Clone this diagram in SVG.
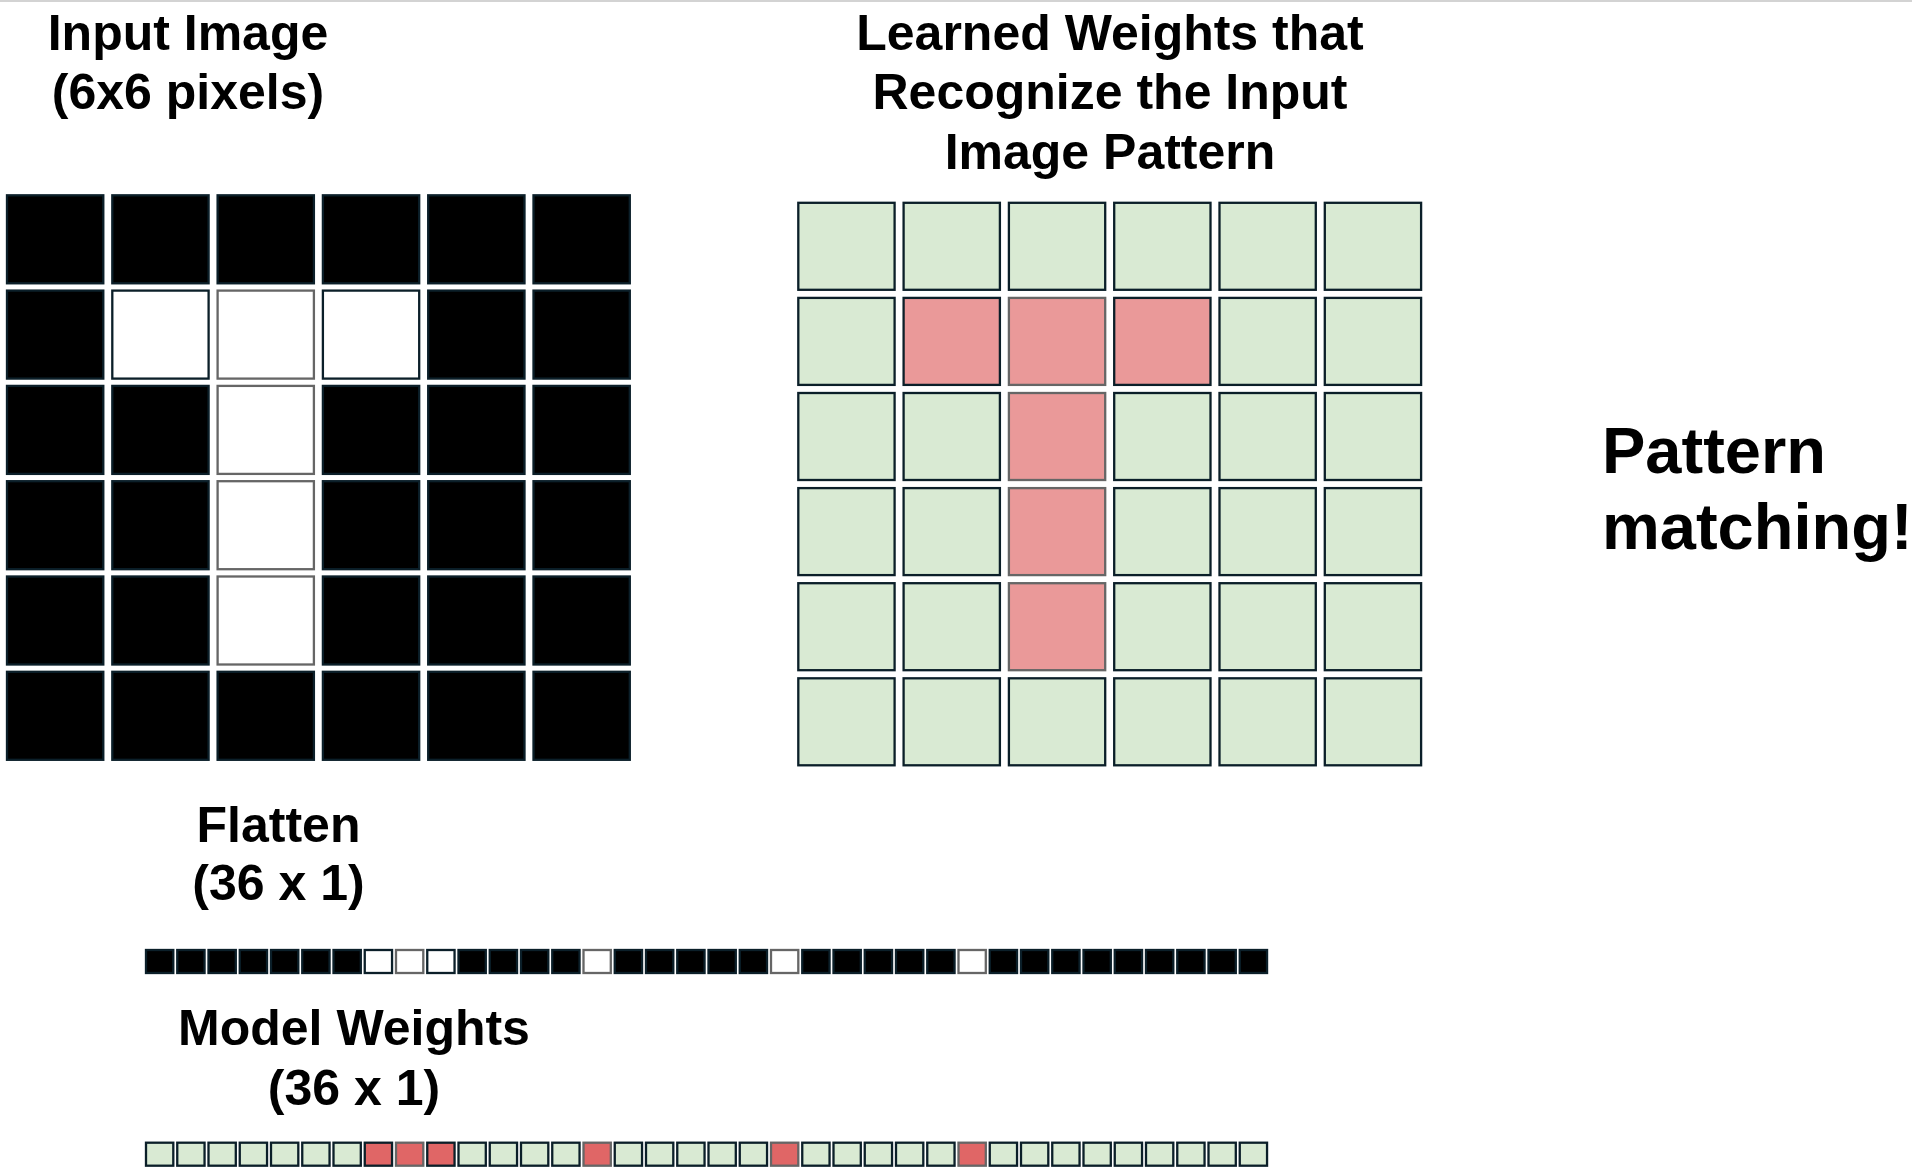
<svg xmlns="http://www.w3.org/2000/svg" width="1912" height="1171" viewBox="0 0 1912 1171">
<style>
text{font-family:"Liberation Sans",Arial,sans-serif;font-weight:bold;fill:#000}
.t{font-size:50px}
.big{font-size:65px}
.c{text-anchor:middle}
rect{stroke-width:2.3}
.k{fill:#000;stroke:#0b1f29}
.w{fill:#fff;stroke:#0b1f29}
.wg{fill:#fff;stroke:#666}
.g{fill:#d9ead3;stroke:#0b1f29}
.p{fill:#ea9999;stroke:#0b1f29}
.pg{fill:#ea9999;stroke:#666}
.r{fill:#e06666;stroke:#0b1f29}
.rg{fill:#e06666;stroke:#666}
</style>
<rect width="1912" height="1171" fill="#fff" stroke="none"/>
<line x1="0" y1="1" x2="1912" y2="1" stroke="#d3d3d3" stroke-width="2"/>

<g id="input-title">
<text class="t c" x="188" y="50">Input Image</text>
<text class="t c" x="188" y="108.5">(6x6 pixels)</text>
</g>

<g id="input-grid">
<rect class="k" x="7" y="195.3" width="96.3" height="88"/>
<rect class="k" x="112.3" y="195.3" width="96.3" height="88"/>
<rect class="k" x="217.6" y="195.3" width="96.3" height="88"/>
<rect class="k" x="322.9" y="195.3" width="96.3" height="88"/>
<rect class="k" x="428.2" y="195.3" width="96.3" height="88"/>
<rect class="k" x="533.5" y="195.3" width="96.3" height="88"/>

<rect class="k" x="7" y="290.6" width="96.3" height="88"/>
<rect class="w" x="112.3" y="290.6" width="96.3" height="88"/>
<rect class="wg" x="217.6" y="290.6" width="96.3" height="88"/>
<rect class="w" x="322.9" y="290.6" width="96.3" height="88"/>
<rect class="k" x="428.2" y="290.6" width="96.3" height="88"/>
<rect class="k" x="533.5" y="290.6" width="96.3" height="88"/>

<rect class="k" x="7" y="385.9" width="96.3" height="88"/>
<rect class="k" x="112.3" y="385.9" width="96.3" height="88"/>
<rect class="wg" x="217.6" y="385.9" width="96.3" height="88"/>
<rect class="k" x="322.9" y="385.9" width="96.3" height="88"/>
<rect class="k" x="428.2" y="385.9" width="96.3" height="88"/>
<rect class="k" x="533.5" y="385.9" width="96.3" height="88"/>

<rect class="k" x="7" y="481.2" width="96.3" height="88"/>
<rect class="k" x="112.3" y="481.2" width="96.3" height="88"/>
<rect class="wg" x="217.6" y="481.2" width="96.3" height="88"/>
<rect class="k" x="322.9" y="481.2" width="96.3" height="88"/>
<rect class="k" x="428.2" y="481.2" width="96.3" height="88"/>
<rect class="k" x="533.5" y="481.2" width="96.3" height="88"/>

<rect class="k" x="7" y="576.5" width="96.3" height="88"/>
<rect class="k" x="112.3" y="576.5" width="96.3" height="88"/>
<rect class="wg" x="217.6" y="576.5" width="96.3" height="88"/>
<rect class="k" x="322.9" y="576.5" width="96.3" height="88"/>
<rect class="k" x="428.2" y="576.5" width="96.3" height="88"/>
<rect class="k" x="533.5" y="576.5" width="96.3" height="88"/>

<rect class="k" x="7" y="671.8" width="96.3" height="88"/>
<rect class="k" x="112.3" y="671.8" width="96.3" height="88"/>
<rect class="k" x="217.6" y="671.8" width="96.3" height="88"/>
<rect class="k" x="322.9" y="671.8" width="96.3" height="88"/>
<rect class="k" x="428.2" y="671.8" width="96.3" height="88"/>
<rect class="k" x="533.5" y="671.8" width="96.3" height="88"/>
</g>

<g id="weights-title">
<text class="t c" x="1110" y="50">Learned Weights that</text>
<text class="t c" x="1110" y="109">Recognize the Input</text>
<text class="t c" x="1110" y="168.5">Image Pattern</text>
</g>

<g id="weights-grid">
<rect class="g" x="798.3" y="202.8" width="96.3" height="87"/>
<rect class="g" x="903.6" y="202.8" width="96.3" height="87"/>
<rect class="g" x="1008.9" y="202.8" width="96.3" height="87"/>
<rect class="g" x="1114.2" y="202.8" width="96.3" height="87"/>
<rect class="g" x="1219.5" y="202.8" width="96.3" height="87"/>
<rect class="g" x="1324.8" y="202.8" width="96.3" height="87"/>

<rect class="g" x="798.3" y="297.9" width="96.3" height="87"/>
<rect class="p" x="903.6" y="297.9" width="96.3" height="87"/>
<rect class="pg" x="1008.9" y="297.9" width="96.3" height="87"/>
<rect class="p" x="1114.2" y="297.9" width="96.3" height="87"/>
<rect class="g" x="1219.5" y="297.9" width="96.3" height="87"/>
<rect class="g" x="1324.8" y="297.9" width="96.3" height="87"/>

<rect class="g" x="798.3" y="393" width="96.3" height="87"/>
<rect class="g" x="903.6" y="393" width="96.3" height="87"/>
<rect class="pg" x="1008.9" y="393" width="96.3" height="87"/>
<rect class="g" x="1114.2" y="393" width="96.3" height="87"/>
<rect class="g" x="1219.5" y="393" width="96.3" height="87"/>
<rect class="g" x="1324.8" y="393" width="96.3" height="87"/>

<rect class="g" x="798.3" y="488.1" width="96.3" height="87"/>
<rect class="g" x="903.6" y="488.1" width="96.3" height="87"/>
<rect class="pg" x="1008.9" y="488.1" width="96.3" height="87"/>
<rect class="g" x="1114.2" y="488.1" width="96.3" height="87"/>
<rect class="g" x="1219.5" y="488.1" width="96.3" height="87"/>
<rect class="g" x="1324.8" y="488.1" width="96.3" height="87"/>

<rect class="g" x="798.3" y="583.2" width="96.3" height="87"/>
<rect class="g" x="903.6" y="583.2" width="96.3" height="87"/>
<rect class="pg" x="1008.9" y="583.2" width="96.3" height="87"/>
<rect class="g" x="1114.2" y="583.2" width="96.3" height="87"/>
<rect class="g" x="1219.5" y="583.2" width="96.3" height="87"/>
<rect class="g" x="1324.8" y="583.2" width="96.3" height="87"/>

<rect class="g" x="798.3" y="678.3" width="96.3" height="87"/>
<rect class="g" x="903.6" y="678.3" width="96.3" height="87"/>
<rect class="g" x="1008.9" y="678.3" width="96.3" height="87"/>
<rect class="g" x="1114.2" y="678.3" width="96.3" height="87"/>
<rect class="g" x="1219.5" y="678.3" width="96.3" height="87"/>
<rect class="g" x="1324.8" y="678.3" width="96.3" height="87"/>
</g>

<g id="pattern-matching">
<text class="big" x="1602" y="473">Pattern</text>
<text class="big" x="1602" y="549">matching!</text>
</g>

<g id="flatten-title">
<text class="t c" x="278.5" y="842.3">Flatten</text>
<text class="t c" x="278.5" y="900">(36 x 1)</text>
</g>

<g id="flatten-bar">
<rect class="k" x="146" y="950" width="27.3" height="23"/>
<rect class="k" x="177.25" y="950" width="27.3" height="23"/>
<rect class="k" x="208.5" y="950" width="27.3" height="23"/>
<rect class="k" x="239.75" y="950" width="27.3" height="23"/>
<rect class="k" x="271" y="950" width="27.3" height="23"/>
<rect class="k" x="302.25" y="950" width="27.3" height="23"/>
<rect class="k" x="333.5" y="950" width="27.3" height="23"/>
<rect class="w" x="364.75" y="950" width="27.3" height="23"/>
<rect class="wg" x="396" y="950" width="27.3" height="23"/>
<rect class="w" x="427.25" y="950" width="27.3" height="23"/>
<rect class="k" x="458.5" y="950" width="27.3" height="23"/>
<rect class="k" x="489.75" y="950" width="27.3" height="23"/>
<rect class="k" x="521" y="950" width="27.3" height="23"/>
<rect class="k" x="552.25" y="950" width="27.3" height="23"/>
<rect class="wg" x="583.5" y="950" width="27.3" height="23"/>
<rect class="k" x="614.75" y="950" width="27.3" height="23"/>
<rect class="k" x="646" y="950" width="27.3" height="23"/>
<rect class="k" x="677.25" y="950" width="27.3" height="23"/>
<rect class="k" x="708.5" y="950" width="27.3" height="23"/>
<rect class="k" x="739.75" y="950" width="27.3" height="23"/>
<rect class="wg" x="771" y="950" width="27.3" height="23"/>
<rect class="k" x="802.25" y="950" width="27.3" height="23"/>
<rect class="k" x="833.5" y="950" width="27.3" height="23"/>
<rect class="k" x="864.75" y="950" width="27.3" height="23"/>
<rect class="k" x="896" y="950" width="27.3" height="23"/>
<rect class="k" x="927.25" y="950" width="27.3" height="23"/>
<rect class="wg" x="958.5" y="950" width="27.3" height="23"/>
<rect class="k" x="989.75" y="950" width="27.3" height="23"/>
<rect class="k" x="1021" y="950" width="27.3" height="23"/>
<rect class="k" x="1052.25" y="950" width="27.3" height="23"/>
<rect class="k" x="1083.5" y="950" width="27.3" height="23"/>
<rect class="k" x="1114.75" y="950" width="27.3" height="23"/>
<rect class="k" x="1146" y="950" width="27.3" height="23"/>
<rect class="k" x="1177.25" y="950" width="27.3" height="23"/>
<rect class="k" x="1208.5" y="950" width="27.3" height="23"/>
<rect class="k" x="1239.75" y="950" width="27.3" height="23"/>
</g>

<g id="model-weights-title">
<text class="t c" x="354" y="1045">Model Weights</text>
<text class="t c" x="354" y="1105">(36 x 1)</text>
</g>

<g id="model-weights-bar">
<rect class="g" x="146" y="1142.7" width="27.3" height="23"/>
<rect class="g" x="177.25" y="1142.7" width="27.3" height="23"/>
<rect class="g" x="208.5" y="1142.7" width="27.3" height="23"/>
<rect class="g" x="239.75" y="1142.7" width="27.3" height="23"/>
<rect class="g" x="271" y="1142.7" width="27.3" height="23"/>
<rect class="g" x="302.25" y="1142.7" width="27.3" height="23"/>
<rect class="g" x="333.5" y="1142.7" width="27.3" height="23"/>
<rect class="r" x="364.75" y="1142.7" width="27.3" height="23"/>
<rect class="rg" x="396" y="1142.7" width="27.3" height="23"/>
<rect class="r" x="427.25" y="1142.7" width="27.3" height="23"/>
<rect class="g" x="458.5" y="1142.7" width="27.3" height="23"/>
<rect class="g" x="489.75" y="1142.7" width="27.3" height="23"/>
<rect class="g" x="521" y="1142.7" width="27.3" height="23"/>
<rect class="g" x="552.25" y="1142.7" width="27.3" height="23"/>
<rect class="rg" x="583.5" y="1142.7" width="27.3" height="23"/>
<rect class="g" x="614.75" y="1142.7" width="27.3" height="23"/>
<rect class="g" x="646" y="1142.7" width="27.3" height="23"/>
<rect class="g" x="677.25" y="1142.7" width="27.3" height="23"/>
<rect class="g" x="708.5" y="1142.7" width="27.3" height="23"/>
<rect class="g" x="739.75" y="1142.7" width="27.3" height="23"/>
<rect class="rg" x="771" y="1142.7" width="27.3" height="23"/>
<rect class="g" x="802.25" y="1142.7" width="27.3" height="23"/>
<rect class="g" x="833.5" y="1142.7" width="27.3" height="23"/>
<rect class="g" x="864.75" y="1142.7" width="27.3" height="23"/>
<rect class="g" x="896" y="1142.7" width="27.3" height="23"/>
<rect class="g" x="927.25" y="1142.7" width="27.3" height="23"/>
<rect class="rg" x="958.5" y="1142.7" width="27.3" height="23"/>
<rect class="g" x="989.75" y="1142.7" width="27.3" height="23"/>
<rect class="g" x="1021" y="1142.7" width="27.3" height="23"/>
<rect class="g" x="1052.25" y="1142.7" width="27.3" height="23"/>
<rect class="g" x="1083.5" y="1142.7" width="27.3" height="23"/>
<rect class="g" x="1114.75" y="1142.7" width="27.3" height="23"/>
<rect class="g" x="1146" y="1142.7" width="27.3" height="23"/>
<rect class="g" x="1177.25" y="1142.7" width="27.3" height="23"/>
<rect class="g" x="1208.5" y="1142.7" width="27.3" height="23"/>
<rect class="g" x="1239.75" y="1142.7" width="27.3" height="23"/>
</g>
</svg>
